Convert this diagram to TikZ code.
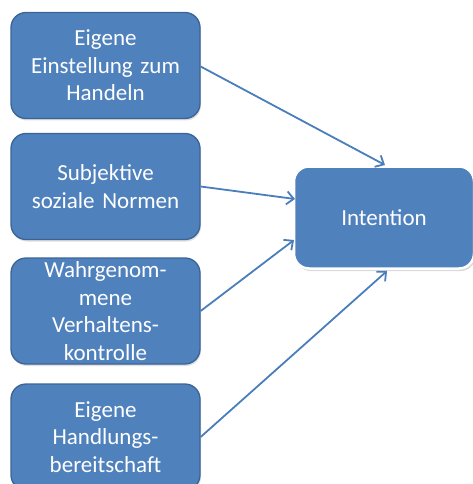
\documentclass[tikz,border=0pt]{standalone}
\usepackage{fontspec}
\setmainfont{Carlito}
\usetikzlibrary{arrows.meta,shadows}
\definecolor{boxblue}{HTML}{4F81BD}
\definecolor{boxedge}{HTML}{3A6496}
\definecolor{arrowblue}{HTML}{4A7EBB}
\begin{document}
\begin{tikzpicture}[x=1pt,y=-1pt,
  factor/.style={draw=boxedge, line width=1.3pt, fill=boxblue, rounded corners=15pt,
    minimum width=189pt, minimum height=106pt, inner sep=0pt, text width=180pt, align=center,
    text=white, font=\fontsize{23}{27.5}\selectfont,
    drop shadow={opacity=0.25, shadow xshift=1pt, shadow yshift=-2pt}},
  target/.style={draw=white, line width=2.5pt, fill=boxblue, rounded corners=15pt,
    minimum width=180pt, minimum height=102pt, inner sep=0pt, align=center,
    text=white, font=\fontsize{23}{27.5}\selectfont,
    drop shadow={opacity=0.3, shadow xshift=1.5pt, shadow yshift=-2.5pt}},
  link/.style={draw=arrowblue, line width=1.8pt, -{Straight Barb[length=7pt,width=13pt,line width=1.8pt]}}]
\useasboundingbox (0,0) rectangle (473,484);
\clip (0,0) rectangle (473,484);
% four factors on the left
\node[factor] (f1) at (105.5,65.5) {Eigene\\Einstellung zum\\Handeln};
\node[factor] (f2) at (105.5,186.5) {Subjektive\\soziale Normen};
\node[factor] (f3) at (105.5,311) {Wahrgenom-\\mene\\Verhaltens-\\kontrolle};
\node[factor] (f4) at (105.5,437) {Eigene\\Handlungs-\\bereitschaft};
% resulting intention
\node[target] (int) at (384,217.5) {Intention};
% arrow end points on the intention box
\coordinate (e1) at (385,165);
\coordinate (e2) at (295,199);
\coordinate (e3) at (294,240);
\coordinate (e4) at (387,271);
\draw[link] (f1.east) ++(0,1) -- (e1);
\draw[link] (f2.east) -- (e2);
\draw[link] (f3.east) -- (e3);
\draw[link] (f4.east) -- (e4);
\end{tikzpicture}
\end{document}
